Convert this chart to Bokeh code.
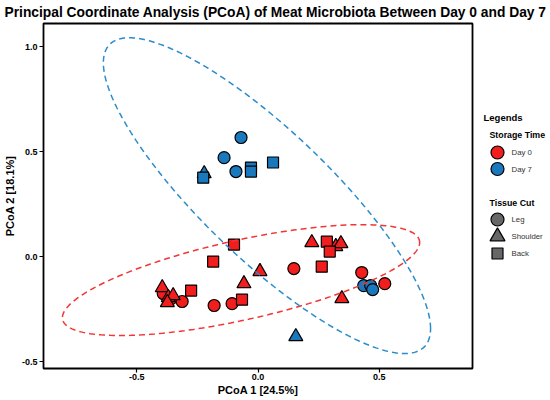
import numpy as np
from bokeh.plotting import figure
from bokeh.layouts import row, column
from bokeh.models import Label, FixedTicker, PrintfTickFormatter, Range1d
from bokeh.core.properties import value
from bokeh.embed import file_html
from bokeh.resources import INLINE

# ---------------- data ----------------
title_text = "Principal Coordinate Analysis (PCoA) of Meat Microbiota Between Day 0 and Day 7"
x_label = "PCoA 1 [24.5%]"
y_label = "PCoA 2 [18.1%]"
x_ticks = [-0.5, 0.0, 0.5]
y_ticks = [-0.5, 0.0, 0.5, 1.0]
legend_header = "Legends"
time_title = "Storage Time"
tissue_title = "Tissue Cut"
time_groups = ["Day 0", "Day 7"]
tissue_groups = ["Leg", "Shoulder", "Back"]

# Day 0
d0_leg_pc1 = [-0.391, -0.358, -0.313, -0.181, -0.107, 0.148, 0.428, 0.523]
d0_leg_pc2 = [-0.176, -0.200, -0.214, -0.233, -0.224, -0.057, -0.076, -0.129]
d0_sho_pc1 = [-0.395, -0.370, -0.350, -0.374, 0.008, -0.058, 0.222, 0.321, 0.342, 0.346]
d0_sho_pc2 = [-0.148, -0.195, -0.186, -0.219, -0.071, -0.129, 0.067, 0.048, 0.062, -0.200]
d0_back_pc1 = [-0.276, -0.185, -0.099, -0.066, 0.284, 0.296, 0.263]
d0_back_pc2 = [-0.162, -0.024, 0.057, -0.205, 0.071, 0.024, -0.048]
# Day 7
d7_leg_pc1 = [-0.070, -0.140, -0.091, 0.436, 0.465, 0.473]
d7_leg_pc2 = [0.567, 0.471, 0.405, -0.138, -0.138, -0.157]
d7_sho_pc1 = [-0.222, 0.156]
d7_sho_pc2 = [0.395, -0.381]
d7_back_pc1 = [-0.226, -0.029, -0.029, 0.062]
d7_back_pc2 = [0.376, 0.424, 0.405, 0.448]

# 95% ellipses (centre, half-extent in x / y, phase between x and y)
ell_cx = [-0.070, 0.037]
ell_cy = [-0.112, 0.290]
ell_ax = [0.737, 0.675]
ell_ay = [0.264, 0.752]
ell_phase = [0.826, 2.571]

# ---------------- style ----------------
RED = "#F21D1D"
BLUE = "#1A79BD"
RED_LINE = "#F23535"
BLUE_LINE = "#2A8CCB"
GRAY = "#676767"
FONT = "Liberation Sans"

X0, X1 = -0.885, 0.885
Y0, Y1 = -0.533, 1.110
TOP, BOTTOM = 2, 32
TITLE_H = 21
PANEL_H = 400 - TITLE_H

# ---------- title strip ----------
tf = figure(width=550, height=TITLE_H, x_range=Range1d(0, 550), y_range=Range1d(TITLE_H, 0),
            title=None, output_backend="svg", toolbar_location=None,
            x_axis_location=None, y_axis_location=None, min_border=0)
tf.outline_line_color = None
tf.grid.visible = False
tf.add_layout(Label(x=275, y=12, text=title_text, text_font=FONT, text_font_size="13.8px",
                    text_font_style="bold", text_color="black", text_align="center",
                    text_baseline="middle"))

# ---------- main plot ----------
p = figure(width=476, height=PANEL_H, x_range=Range1d(X0, X1), y_range=Range1d(Y0, Y1),
           title=None, output_backend="svg", toolbar_location=None,
           min_border_left=42, min_border_right=4, min_border_top=TOP, min_border_bottom=BOTTOM)
p.grid.visible = False
p.outline_line_color = "black"
p.outline_line_width = 1.8

for ax in (p.xaxis[0], p.yaxis[0]):
    ax.axis_line_color = None
    ax.major_tick_in = 0
    ax.major_tick_out = 4
    ax.major_tick_line_color = "black"
    ax.major_tick_line_width = 1.2
    ax.minor_tick_line_color = None
    ax.major_label_text_font = FONT
    ax.major_label_text_font_size = "9px"
    ax.major_label_text_font_style = "bold"
    ax.major_label_text_color = "black"
    ax.axis_label_text_font = FONT
    ax.axis_label_text_font_size = "11px"
    ax.axis_label_text_font_style = "bold"
    ax.axis_label_text_color = "black"
    ax.formatter = PrintfTickFormatter(format="%.1f")

p.xaxis.ticker = FixedTicker(ticks=x_ticks)
p.yaxis.ticker = FixedTicker(ticks=y_ticks)
p.xaxis.axis_label = x_label
p.yaxis.axis_label = y_label
p.xaxis.major_label_standoff = 1
p.xaxis.axis_label_standoff = 1
p.yaxis.major_label_standoff = 2
p.yaxis.axis_label_standoff = 3

groups = [
    (d0_leg_pc1, d0_leg_pc2, "circle", 12, RED),
    (d0_sho_pc1, d0_sho_pc2, "triangle", 14, RED),
    (d0_back_pc1, d0_back_pc2, "square", 11, RED),
    (d7_leg_pc1, d7_leg_pc2, "circle", 12, BLUE),
    (d7_sho_pc1, d7_sho_pc2, "triangle", 14, BLUE),
    (d7_back_pc1, d7_back_pc2, "square", 11, BLUE),
]
for xs, ys, mk, sz, col in groups:
    p.scatter(x=xs, y=ys, marker=mk, size=sz, fill_color=col, line_color="black", line_width=1.2)

t = np.linspace(0, 2 * np.pi, 240)
for i, col in enumerate([RED_LINE, BLUE_LINE]):
    ex = ell_cx[i] + ell_ax[i] * np.cos(t)
    ey = ell_cy[i] + ell_ay[i] * np.cos(t - ell_phase[i])
    p.line(ex, ey, line_color=col, line_width=1.5, line_dash="6 4")

# ---------- legend panel (coordinates follow the reference page layout) ----------
lf = figure(width=74, height=PANEL_H, x_range=Range1d(476, 550), y_range=Range1d(368, 23),
            title=None, output_backend="svg", toolbar_location=None,
            x_axis_location=None, y_axis_location=None,
            min_border_left=0, min_border_right=0, min_border_top=TOP, min_border_bottom=BOTTOM)
lf.outline_line_color = None
lf.grid.visible = False

KEY_X, LABEL_X, HEAD_X = 497, 511, 489
time_y0, time_step = 152, 16.5
tissue_y0, tissue_step = 219, 17

time_y = [time_y0 + time_step * i for i in range(len(time_groups))]
tissue_y = [tissue_y0 + tissue_step * i for i in range(len(tissue_groups))]

lf.scatter(x=[KEY_X] * len(time_groups), y=time_y, marker="circle", size=13,
           fill_color=[RED, BLUE], line_color="black", line_width=1.2)
lf.scatter(x=[KEY_X] * len(tissue_groups), y=tissue_y, marker=["circle", "triangle", "square"],
           size=[13, 15, 11], fill_color=GRAY, line_color="black", line_width=1.2)

for labels, ys in [(time_groups, time_y), (tissue_groups, tissue_y)]:
    lf.text(x=[LABEL_X] * len(labels), y=ys, text=labels, text_font=value(FONT),
            text_font_size="7.8px", text_color="#333333", text_baseline="middle",
            text_align="left")

for txt, px, py, fs in [(legend_header, 483, 117, "9.5px"),
                        (time_title, HEAD_X, 134, "8.8px"),
                        (tissue_title, HEAD_X, 202, "8.8px")]:
    lf.add_layout(Label(x=px, y=py, text=txt, text_font=FONT, text_font_size=fs,
                        text_font_style="bold", text_color="black", text_baseline="middle",
                        text_align="left"))

layout = column(tf, row(p, lf))
open("out.html", "w").write(file_html(layout, INLINE))
